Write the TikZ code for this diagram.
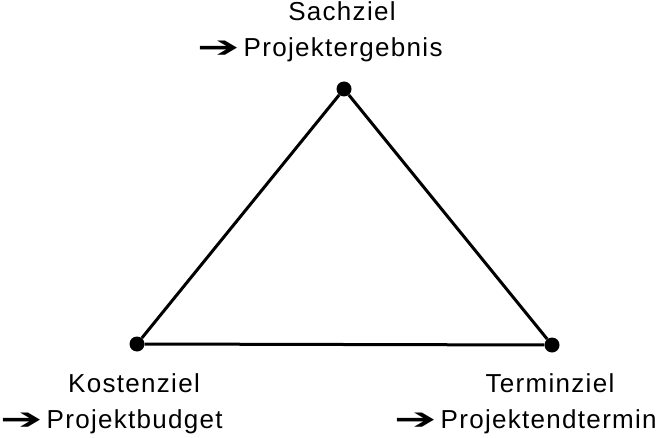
\documentclass[tikz,border=0pt]{standalone}
\usepackage{fontspec}
\setmainfont{Liberation Sans}[LetterSpace=5]
\newfontfamily\arrowfont{DejaVu Sans}
\usetikzlibrary{positioning}
\newcommand{\zielpfeil}{\raisebox{-1pt}{\scalebox{1.95}[1.15]{\arrowfont\char"2794}}\hspace{4pt}}
\tikzset{
  ecke/.style={circle, fill=black, draw=none, minimum size=15pt, inner sep=0pt},
  kante/.style={draw=black, line width=3pt},
  ziel/.style={font=\fontsize{26}{30}\selectfont, inner sep=0pt, anchor=base},
  zeile/.style={font=\fontsize{26}{30}\selectfont, inner sep=0pt, anchor=base west}
}
\begin{document}
\begin{tikzpicture}[x=1pt, y=-1pt]
  \useasboundingbox (0,0) rectangle (660,438);

  % Corners of the triangle
  \node[ecke] (sach) at (344,89) {};
  \node[ecke] (kosten) at (137,344) {};
  \node[ecke] (termin) at (552,345) {};

  % Edges
  \draw[kante] (sach) -- (kosten);
  \draw[kante] (kosten) -- (termin);
  \draw[kante] (termin) -- (sach);

  % Top label
  \node[ziel] (sachname) at (342,21) {Sachziel};
  \node[zeile] (sachgroesse) at (197,57) {\zielpfeil Projektergebnis};

  % Left label
  \node[ziel] (kostenname) at (134,392) {Kostenziel};
  \node[zeile] (kostengroesse) at (0,428) {\zielpfeil Projektbudget};

  % Right label
  \node[ziel] (terminname) at (550,392) {Terminziel};
  \node[zeile] (termingroesse) at (394,428) {\zielpfeil Projektendtermin};
\end{tikzpicture}
\end{document}
